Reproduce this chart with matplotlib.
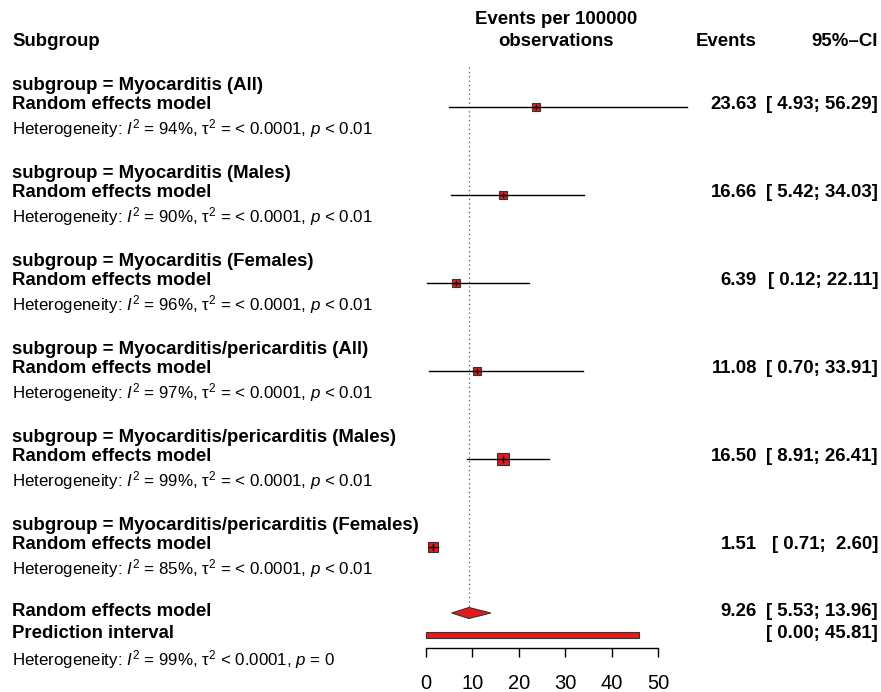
import matplotlib
matplotlib.use("Agg")
import matplotlib.pyplot as plt
from matplotlib.patches import Polygon, Rectangle
from matplotlib.transforms import blended_transform_factory

plt.rcParams['font.family'] = ['Liberation Sans', 'DejaVu Sans']
plt.rcParams['mathtext.fontset'] = 'custom'
plt.rcParams['mathtext.rm'] = 'Liberation Sans'
plt.rcParams['mathtext.it'] = 'Liberation Sans:italic'
plt.rcParams['mathtext.bf'] = 'Liberation Sans:bold'

# veriler
subgroups = ['Myocarditis (All)', 'Myocarditis (Males)', 'Myocarditis (Females)',
             'Myocarditis/pericarditis (All)', 'Myocarditis/pericarditis (Males)',
             'Myocarditis/pericarditis (Females)']
est = [23.63, 16.66, 6.39, 11.08, 16.50, 1.51]
lower = [4.93, 5.42, 0.12, 0.70, 8.91, 0.71]
upper = [56.29, 34.03, 22.11, 33.91, 26.41, 2.60]
i2 = ['94%', '90%', '96%', '97%', '99%', '85%']
weights = [6, 7, 7.5, 6, 10, 9]   # goreli agirlik (kare boyu)

overall_est = 9.26
overall_lo = 5.53
overall_hi = 13.96
pred_lo = 0.00
pred_hi = 45.81
overall_i2 = '99%'
xticks = [0, 10, 20, 30, 40, 50]

W, H = 881, 692
px = 4.64          # 1 birim = px piksel
x0 = 426           # 0 degerinin pikseli
row_px = 22.0

fig = plt.figure(figsize=(W / 100, H / 100), dpi=100)
ax = fig.add_axes([0, 0, 1, 1])
ax.set_xlim(-x0 / px, (W - x0) / px)
ax.set_ylim(2 + (H - 85) / row_px, 2 - 85 / row_px)
for s in ['top', 'left', 'right']:
    ax.spines[s].set_visible(False)
ax.patch.set_visible(False)

tr = blended_transform_factory(fig.transFigure, ax.transData)

def fx(p):
    return p / W

bold = 13.4
small = 12.2

# basliklar
ax.text(fx(12), 0, 'Subgroup', transform=tr, fontsize=bold, fontweight='bold', va='center')
ax.text(fx(556), -1.0, 'Events per 100000', transform=tr, fontsize=bold, fontweight='bold',
        va='center', ha='center')
ax.text(fx(556), 0, 'observations', transform=tr, fontsize=bold, fontweight='bold',
        va='center', ha='center')
ax.text(fx(757), 0, 'Events', transform=tr, fontsize=bold, fontweight='bold', va='center', ha='right')
ax.text(fx(878), 0, '95%\u2013CI', transform=tr, fontsize=bold, fontweight='bold', va='center', ha='right')

def ci_text(lo, hi):
    return '[%5.2f; %5.2f]' % (lo, hi)

for g in range(len(subgroups)):
    r = 4 * g + 2
    ax.text(fx(12), r, 'subgroup = ' + subgroups[g], transform=tr, fontsize=bold,
            fontweight='bold', va='center')
    ax.text(fx(12), r + 0.9, 'Random effects model', transform=tr, fontsize=bold,
            fontweight='bold', va='center')
    ax.text(fx(12), r + 1.98,
            'Heterogeneity: $I^2$ = ' + i2[g] + r', $\mathrm{\tau}^2$ = < 0.0001, $p$ < 0.01',
            transform=tr, fontsize=small, va='center')
    # CI cizgisi ve kare
    ax.plot([est[g]], [r + 1], marker='s', markersize=weights[g] * 0.72 + 1,
            markerfacecolor='#e41a1c', markeredgecolor='#333333', markeredgewidth=0.8,
            linestyle='none', zorder=3)
    ax.plot([lower[g], upper[g]], [r + 1, r + 1], color='black', lw=1.0, zorder=4)
    ax.plot([est[g], est[g]], [r + 1 - weights[g] / 2 / row_px * 0.6, r + 1 + weights[g] / 2 / row_px * 0.6],
            color='black', lw=1.0, zorder=4)
    ax.text(fx(757), r + 0.9, '%.2f' % est[g], transform=tr, fontsize=bold,
            fontweight='bold', va='center', ha='right')
    ax.text(fx(878), r + 0.9, ci_text(lower[g], upper[g]), transform=tr, fontsize=bold,
            fontweight='bold', va='center', ha='right')

# genel model
ro = 26
ax.text(fx(12), ro - 0.05, 'Random effects model', transform=tr, fontsize=bold,
        fontweight='bold', va='center')
ax.text(fx(12), ro + 0.95, 'Prediction interval', transform=tr, fontsize=bold,
        fontweight='bold', va='center')
ax.text(fx(12), ro + 2.12,
        'Heterogeneity: $I^2$ = ' + overall_i2 + r', $\mathrm{\tau}^2$ < 0.0001, $p$ = 0',
        transform=tr, fontsize=small, va='center')
ax.text(fx(757), ro - 0.05, '%.2f' % overall_est, transform=tr, fontsize=bold,
        fontweight='bold', va='center', ha='right')
ax.text(fx(878), ro - 0.05, ci_text(overall_lo, overall_hi), transform=tr, fontsize=bold,
        fontweight='bold', va='center', ha='right')
ax.text(fx(878), ro + 0.95, ci_text(pred_lo, pred_hi), transform=tr, fontsize=bold,
        fontweight='bold', va='center', ha='right')

dh = 5.5 / row_px
ax.add_patch(Polygon([[overall_lo, ro], [overall_est, ro - dh], [overall_hi, ro], [overall_est, ro + dh]],
                     closed=True, facecolor='#e41a1c', edgecolor='#333333', lw=0.8, zorder=3))
ph = 2.8 / row_px
ax.add_patch(Rectangle((pred_lo, ro + 1 - ph), pred_hi - pred_lo, 2 * ph,
                       facecolor='#e41a1c', edgecolor='#333333', lw=0.8, zorder=3))

# referans cizgisi
ax.plot([overall_est, overall_est], [1.2, ro - dh], color='#555555', lw=0.9,
        linestyle=(0, (1, 2.5)), zorder=1)

# x ekseni
ax.spines['bottom'].set_position(('data', 2 + (648 - 85) / row_px))
ax.spines['bottom'].set_bounds(xticks[0], xticks[-1])
ax.spines['bottom'].set_linewidth(1.0)
ax.set_xticks(xticks)
ax.tick_params(axis='x', direction='out', length=6.5, width=1.0, pad=12, labelsize=14.5)
ax.set_yticks([])

fig.savefig('out.png', dpi=100)
